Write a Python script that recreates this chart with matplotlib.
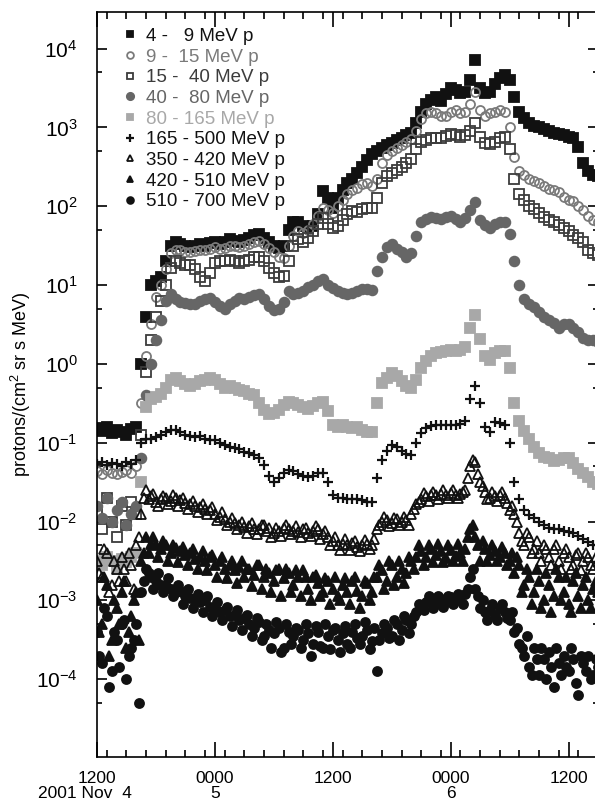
import numpy as np
import pandas as pd
import matplotlib
matplotlib.use("Agg")
import matplotlib.pyplot as plt
import matplotlib.dates as mdates
from matplotlib.ticker import LogLocator, FixedLocator, FuncFormatter, NullFormatter

plt.rcParams['font.family'] = ['Liberation Sans', 'DejaVu Sans']
plt.rcParams['mathtext.default'] = 'regular'

# 30-minute samples starting 2001 Nov 4 1200 UT
times = pd.date_range('2001-11-04 12:00', periods=103, freq='30min')
# in-between samples (at :15 and :45) for the noisy high-energy channels
times_b = pd.date_range('2001-11-04 12:15', periods=102, freq='30min')

# log10 of flux, protons/(cm2 sr s MeV)
p4_9 = [-0.82, -0.85, -0.80, -0.88, -0.84, -0.86, -0.90, -0.83, -0.80, 0.00,
        0.60, 1.00, 1.05, 1.10, 1.30, 1.50, 1.55, 1.52, 1.50, 1.48,
        1.50, 1.52, 1.50, 1.53, 1.55, 1.52, 1.55, 1.58, 1.56, 1.55,
        1.57, 1.60, 1.63, 1.65, 1.60, 1.55, 1.50, 1.47, 1.50, 1.70,
        1.80, 1.80, 1.75, 1.72, 1.75, 1.90, 2.19, 2.10, 1.98, 2.10,
        2.20, 2.30, 2.35, 2.42, 2.50, 2.58, 2.66, 2.70, 2.74, 2.78,
        2.80, 2.84, 2.87, 2.90, 2.93, 3.05, 3.20, 3.30, 3.35, 3.38,
        3.34, 3.42, 3.50, 3.47, 3.43, 3.45, 3.60, 3.85, 3.50, 3.43,
        3.45, 3.55, 3.63, 3.66, 3.60, 3.38, 3.20, 3.12, 3.06, 3.02,
        3.00, 2.98, 2.96, 2.93, 2.92, 2.90, 2.88, 2.86, 2.75, 2.55,
        2.45, 2.40, 2.38]
p9_15 = [-1.36, -1.40, -1.35, -1.38, -1.40, -1.37, -1.35, -1.38, -1.30, -0.50,
         0.10, 0.50, 0.85, 1.00, 1.20, 1.40, 1.45, 1.44, 1.42, 1.42,
         1.43, 1.45, 1.44, 1.46, 1.48, 1.46, 1.47, 1.50, 1.49, 1.48,
         1.50, 1.52, 1.55, 1.56, 1.52, 1.47, 1.42, 1.36, 1.34, 1.50,
         1.62, 1.68, 1.66, 1.70, 1.78, 1.88, 1.98, 1.95, 1.92, 2.00,
         2.08, 2.15, 2.20, 2.23, 2.28, 2.30, 2.25, 2.35, 2.55, 2.65,
         2.70, 2.74, 2.78, 2.82, 2.85, 2.95, 3.10, 3.18, 3.20, 3.18,
         3.14, 3.15, 3.20, 3.22, 3.18, 3.20, 3.30, 3.45, 3.22, 3.15,
         3.18, 3.20, 3.22, 3.20, 3.00, 2.62, 2.45, 2.40, 2.35, 2.32,
         2.30, 2.26, 2.22, 2.20, 2.18, 2.12, 2.08, 2.06, 2.00, 1.95,
         1.88, 1.82, 1.80]
p15_40 = [-1.90, -2.10, -1.70, -2.00, -2.20, -1.80, -2.05, -1.75, -1.90, -0.90,
          -0.10, 0.30, 0.60, 0.80, 1.00, 1.22, 1.30, 1.28, 1.26, 1.25,
          1.20, 1.10, 1.05, 1.15, 1.28, 1.30, 1.30, 1.32, 1.30, 1.28,
          1.30, 1.32, 1.35, 1.36, 1.30, 1.22, 1.15, 1.10, 1.12, 1.30,
          1.50, 1.58, 1.55, 1.60, 1.68, 1.78, 1.85, 1.78, 1.72, 1.75,
          1.82, 1.90, 1.94, 1.93, 1.96, 1.98, 1.98, 2.10, 2.30, 2.38,
          2.42, 2.46, 2.50, 2.55, 2.60, 2.72, 2.82, 2.84, 2.86, 2.87,
          2.86, 2.89, 2.92, 2.90, 2.88, 2.90, 2.96, 3.05, 2.88, 2.80,
          2.79, 2.82, 2.86, 2.88, 2.72, 2.35, 2.15, 2.08, 2.00, 1.96,
          1.92, 1.86, 1.82, 1.80, 1.76, 1.72, 1.68, 1.64, 1.60, 1.55,
          1.45, 1.40, 1.38]
p40_80 = [-1.80, -1.95, -1.70, -2.00, -1.85, -1.75, -2.05, -1.90, -1.80, -1.20,
          -0.40, 0.00, 0.30, 0.55, 0.80, 0.88, 0.82, 0.79, 0.77, 0.76,
          0.76, 0.80, 0.82, 0.83, 0.78, 0.74, 0.70, 0.76, 0.80, 0.83,
          0.82, 0.85, 0.87, 0.88, 0.82, 0.74, 0.68, 0.70, 0.78, 0.92,
          0.88, 0.90, 0.93, 0.98, 1.00, 1.05, 1.08, 1.00, 0.96, 0.92,
          0.90, 0.88, 0.90, 0.93, 0.95, 0.95, 0.94, 1.18, 1.35, 1.48,
          1.52, 1.46, 1.42, 1.36, 1.40, 1.62, 1.80, 1.84, 1.86, 1.85,
          1.84, 1.86, 1.88, 1.84, 1.80, 1.85, 1.95, 2.05, 1.82, 1.76,
          1.72, 1.78, 1.80, 1.80, 1.65, 1.30, 1.00, 0.82, 0.76, 0.72,
          0.66, 0.60, 0.56, 0.52, 0.45, 0.50, 0.50, 0.46, 0.40, 0.33,
          0.30, 0.30, 0.28]
p80_165 = [-2.50, -2.55, -2.45, -2.50, -2.60, -2.48, -2.52, -2.45, -2.40, -1.50,
           -0.55, -0.45, -0.42, -0.38, -0.30, -0.20, -0.18, -0.22, -0.26, -0.28,
           -0.25, -0.22, -0.20, -0.18, -0.20, -0.26, -0.30, -0.28, -0.30, -0.33,
           -0.35, -0.38, -0.40, -0.50, -0.58, -0.64, -0.62, -0.58, -0.52, -0.48,
           -0.50, -0.52, -0.55, -0.57, -0.54, -0.50, -0.48, -0.60, -0.77, -0.80,
           -0.78, -0.80, -0.82, -0.80, -0.84, -0.86, -0.87, -0.50, -0.24, -0.18,
           -0.12, -0.15, -0.22, -0.28, -0.30, -0.20, -0.05, 0.04, 0.10, 0.14,
           0.15, 0.16, 0.17, 0.16, 0.18, 0.22, 0.45, 0.62, 0.32, 0.10,
           0.05, 0.14, 0.16, 0.16, -0.05, -0.50, -0.73, -0.85, -0.95, -1.05,
           -1.13, -1.18, -1.20, -1.23, -1.22, -1.20, -1.20, -1.26, -1.33, -1.38,
           -1.44, -1.50, -1.52]
p165_500 = [-1.27, -1.25, -1.28, -1.26, -1.27, -1.30, -1.25, -1.27, -1.22, -1.00,
            -0.95, -0.95, -0.93, -0.90, -0.87, -0.84, -0.84, -0.87, -0.90, -0.92,
            -0.93, -0.92, -0.95, -0.97, -0.97, -1.00, -1.03, -1.05, -1.07, -1.08,
            -1.12, -1.13, -1.15, -1.20, -1.28, -1.42, -1.50, -1.45, -1.38, -1.35,
            -1.36, -1.40, -1.42, -1.44, -1.42, -1.38, -1.39, -1.50, -1.66, -1.70,
            -1.70, -1.71, -1.72, -1.72, -1.73, -1.75, -1.75, -1.45, -1.22, -1.10,
            -1.03, -1.06, -1.10, -1.14, -1.16, -1.00, -0.88, -0.82, -0.79, -0.78,
            -0.77, -0.77, -0.77, -0.77, -0.76, -0.72, -0.45, -0.28, -0.50, -0.80,
            -0.86, -0.74, -0.75, -0.77, -1.00, -1.50, -1.72, -1.85, -1.92, -1.96,
            -2.00, -2.05, -2.08, -2.10, -2.10, -2.12, -2.13, -2.15, -2.18, -2.22,
            -2.26, -2.30, -2.30]
p350_420 = [-2.50, -2.70, -2.40, -2.80, -2.60, -2.45, -2.75, -2.55, -2.30, -1.90,
            -1.60, -1.68, -1.75, -1.72, -1.70, -1.74, -1.70, -1.73, -1.76, -1.78,
            -1.80, -1.82, -1.84, -1.86, -1.90, -1.94, -1.97, -2.00, -2.02, -2.05,
            -2.07, -2.06, -2.09, -2.10, -2.05, -2.08, -2.15, -2.12, -2.08, -2.10,
            -2.12, -2.13, -2.10, -2.15, -2.12, -2.10, -2.16, -2.20, -2.25, -2.30,
            -2.28, -2.30, -2.27, -2.32, -2.30, -2.28, -2.30, -2.10, -2.00, -1.98,
            -2.02, -1.97, -2.00, -1.98, -1.90, -1.78, -1.72, -1.68, -1.67, -1.66,
            -1.65, -1.66, -1.64, -1.66, -1.65, -1.60, -1.30, -1.25, -1.50, -1.62,
            -1.70, -1.68, -1.66, -1.70, -1.85, -1.90, -2.15, -2.30, -2.20, -2.35,
            -2.40, -2.30, -2.45, -2.35, -2.50, -2.40, -2.45, -2.55, -2.40, -2.50,
            -2.45, -2.60, -2.50]
p420_510 = [-3.00, -3.30, -2.80, -3.50, -3.10, -2.90, -3.60, -3.20, -2.90, -2.50,
            -2.20, -2.28, -2.30, -2.35, -2.30, -2.40, -2.33, -2.38, -2.42, -2.40,
            -2.48, -2.45, -2.50, -2.45, -2.55, -2.50, -2.60, -2.55, -2.62, -2.58,
            -2.70, -2.60, -2.68, -2.55, -2.70, -2.65, -2.75, -2.60, -2.72, -2.65,
            -2.80, -2.70, -2.62, -2.85, -2.70, -2.78, -2.90, -2.75, -2.85, -2.95,
            -2.80, -2.90, -2.75, -2.88, -2.95, -2.78, -2.90, -2.70, -2.62, -2.75,
            -2.55, -2.70, -2.60, -2.65, -2.50, -2.45, -2.38, -2.45, -2.35, -2.42,
            -2.38, -2.46, -2.36, -2.44, -2.40, -2.35, -2.10, -2.20, -2.50, -2.35,
            -2.42, -2.38, -2.45, -2.40, -2.50, -2.65, -2.55, -2.80, -2.70, -2.90,
            -2.75, -3.00, -2.80, -2.95, -2.70, -2.90, -3.05, -2.75, -2.95, -2.80,
            -3.00, -2.85, -2.90]
p510_700 = [-3.40, -3.80, -3.20, -3.90, -3.50, -3.30, -4.00, -3.60, -3.30, -2.90,
            -2.60, -2.70, -2.75, -2.80, -2.82, -2.86, -2.90, -2.88, -2.95, -2.97,
            -3.00, -3.02, -3.00, -3.08, -3.10, -3.15, -3.12, -3.20, -3.18, -3.25,
            -3.22, -3.30, -3.35, -3.28, -3.45, -3.38, -3.42, -3.35, -3.60, -3.40,
            -3.45, -3.38, -3.50, -3.42, -3.55, -3.40, -3.60, -3.45, -3.38, -3.50,
            -3.42, -3.55, -3.40, -3.48, -3.45, -3.38, -3.52, -3.90, -3.42, -3.35,
            -3.45, -3.30, -3.38, -3.25, -3.30, -3.15, -3.08, -3.02, -3.00, -3.05,
            -2.98, -3.02, -2.96, -3.00, -2.95, -2.92, -2.70, -2.85, -3.10, -3.15,
            -3.12, -3.18, -3.10, -3.15, -3.25, -3.40, -3.55, -3.70, -3.85, -3.60,
            -3.95, -3.75, -3.65, -4.10, -3.80, -3.70, -3.90, -3.75, -4.20, -3.80,
            -3.70, -3.95, -3.85]

# the :15/:45 readings of the three scattered channels
q350_420 = [-2.65, -2.35, -2.90, -2.50, -2.75, -2.60, -2.40, -2.85, -2.20, -1.70,
            -1.72, -1.65, -1.80, -1.68, -1.78, -1.66, -1.80, -1.70, -1.84, -1.74,
            -1.88, -1.78, -1.90, -1.82, -1.98, -1.88, -2.04, -1.95, -2.10, -2.00,
            -2.14, -2.02, -2.16, -2.05, -2.12, -2.20, -2.08, -2.18, -2.04, -2.16,
            -2.06, -2.20, -2.08, -2.18, -2.06, -2.22, -2.12, -2.30, -2.20, -2.36,
            -2.22, -2.36, -2.25, -2.38, -2.24, -2.35, -2.22, -2.05, -1.94, -2.06,
            -1.95, -2.05, -1.94, -2.04, -1.84, -1.75, -1.64, -1.74, -1.62, -1.72,
            -1.60, -1.70, -1.60, -1.70, -1.62, -1.45, -1.22, -1.40, -1.55, -1.72,
            -1.62, -1.74, -1.62, -1.76, -1.80, -2.00, -2.25, -2.15, -2.40, -2.25,
            -2.50, -2.35, -2.55, -2.30, -2.60, -2.35, -2.60, -2.42, -2.62, -2.40,
            -2.55, -2.45]
q420_510 = [-3.40, -2.70, -3.70, -3.00, -3.30, -2.75, -3.40, -3.00, -3.50, -2.40,
            -2.40, -2.20, -2.45, -2.25, -2.50, -2.30, -2.52, -2.32, -2.55, -2.35,
            -2.60, -2.38, -2.62, -2.42, -2.70, -2.45, -2.72, -2.50, -2.78, -2.50,
            -2.60, -2.82, -2.55, -2.85, -2.60, -2.90, -2.62, -2.95, -2.60, -2.90,
            -2.62, -2.95, -2.70, -3.00, -2.68, -2.95, -2.72, -3.05, -2.70, -3.00,
            -2.72, -3.05, -2.70, -3.10, -2.75, -3.00, -2.70, -2.55, -2.85, -2.50,
            -2.80, -2.50, -2.78, -2.45, -2.60, -2.30, -2.55, -2.30, -2.52, -2.28,
            -2.52, -2.30, -2.50, -2.28, -2.50, -2.20, -2.05, -2.30, -2.25, -2.50,
            -2.30, -2.50, -2.32, -2.55, -2.40, -2.45, -2.90, -2.60, -3.05, -2.60,
            -3.10, -2.65, -3.15, -2.60, -3.00, -2.70, -3.15, -2.65, -3.10, -2.70,
            -3.10, -2.75]
q510_700 = [-3.70, -3.10, -4.10, -3.40, -3.85, -3.25, -3.70, -3.50, -4.30, -2.75,
            -2.65, -2.85, -2.65, -2.90, -2.72, -2.95, -2.80, -3.05, -2.85, -3.10,
            -2.92, -3.15, -2.95, -3.20, -3.02, -3.25, -3.08, -3.32, -3.12, -3.38,
            -3.18, -3.45, -3.22, -3.50, -3.30, -3.60, -3.28, -3.65, -3.30, -3.55,
            -3.35, -3.60, -3.30, -3.70, -3.32, -3.58, -3.30, -3.62, -3.35, -3.65,
            -3.32, -3.60, -3.30, -3.55, -3.28, -3.62, -3.35, -3.50, -3.30, -3.48,
            -3.25, -3.50, -3.20, -3.42, -3.20, -3.05, -3.12, -2.95, -3.10, -2.95,
            -3.08, -2.95, -3.05, -2.92, -3.05, -2.85, -2.60, -2.95, -3.00, -3.25,
            -3.05, -3.25, -3.05, -3.22, -3.15, -3.35, -3.60, -3.45, -3.95, -3.75,
            -3.60, -4.00, -3.85, -3.60, -3.95, -3.85, -3.60, -4.05, -3.70, -3.90,
            -4.00, -3.75]

labels = ['4 -   9 MeV p', '9 -  15 MeV p', '15 -  40 MeV p', '40 -  80 MeV p',
          '80 - 165 MeV p', '165 - 500 MeV p', '350 - 420 MeV p',
          '420 - 510 MeV p', '510 - 700 MeV p']
series = [p4_9, p9_15, p15_40, p40_80, p80_165, p165_500, p350_420, p420_510, p510_700]
extra = [None, None, None, None, None, None, q350_420, q420_510, q510_700]
colors = ['#111111', '#7a7a7a', '#3c3c3c', '#666666', '#a8a8a8',
          '#111111', '#111111', '#111111', '#111111']
markers = ['s', 'o', 's', 'o', 's', '+', '^', '^', 'o']
filled = [True, False, False, True, True, True, False, True, True]
msize = [6.5, 6.5, 6.5, 7, 6.5, 7, 6.5, 6.5, 6.5]
decades = [1e-4, 1e-3, 1e-2, 1e-1, 1e0, 1e1, 1e2, 1e3, 1e4]

fig = plt.figure(figsize=(5.95, 8.07), dpi=100)
ax = fig.add_axes([0.163, 0.062, 0.842, 0.923])

for vals, more, lab, c, m, f, ms in zip(series, extra, labels, colors, markers, filled, msize):
    style = dict(linestyle='none', marker=m, markersize=ms, color=c,
                 markerfacecolor=c if f else 'none', markeredgecolor=c,
                 markeredgewidth=1.6 if m == '+' else 1.3)
    ax.plot(times, 10.0 ** np.array(vals), label=lab, **style)
    if more is not None:
        ax.plot(times_b, 10.0 ** np.array(more), **style)

ax.set_yscale('log')
ax.set_ylim(1.03e-5, 2.9e4)
ax.set_xlim(pd.Timestamp('2001-11-04 12:00'), pd.Timestamp('2001-11-06 15:00'))

ax.yaxis.set_major_locator(FixedLocator(decades))
ax.yaxis.set_minor_locator(LogLocator(base=10, subs=[5.0], numticks=20))
ax.yaxis.set_major_formatter(FuncFormatter(lambda v, p: r'$10^{%d}$' % round(np.log10(v))))
ax.yaxis.set_minor_formatter(NullFormatter())


def time_label(v, pos):
    d = mdates.num2date(v)
    if d.hour == 0:
        return '0000\n%d' % d.day
    if pos == 0:
        return '1200\n2001 Nov  4     '
    return '1200'


ax.xaxis.set_major_locator(mdates.HourLocator(byhour=[0, 12]))
ax.xaxis.set_minor_locator(mdates.HourLocator(interval=2))
ax.xaxis.set_major_formatter(FuncFormatter(time_label))

ax.tick_params(which='both', direction='in', top=True, right=True, width=1.2)
ax.tick_params(axis='x', which='major', length=11, pad=10, labelsize=12.5)
ax.tick_params(axis='x', which='minor', length=5)
ax.tick_params(axis='y', which='major', length=7, pad=14, labelsize=15)
ax.tick_params(axis='y', which='minor', length=3.5)
for s in ax.spines.values():
    s.set_linewidth(1.2)

ax.set_ylabel('protons/(cm$^2$ sr s MeV)', fontsize=13)
ax.yaxis.set_label_coords(-0.128, 0.5)

leg = ax.legend(loc='upper left', bbox_to_anchor=(0.05, 0.979), frameon=False,
                fontsize=13.5, handlelength=0.8, handletextpad=0.5,
                labelspacing=0.19, borderaxespad=0, borderpad=0, markerscale=0.75)
for txt, c in zip(leg.get_texts(), colors):
    txt.set_color(c)

fig.canvas.draw()
for lab in ax.get_xticklabels():
    lab.set_linespacing(1.0)

fig.savefig('out.png', dpi=100)
